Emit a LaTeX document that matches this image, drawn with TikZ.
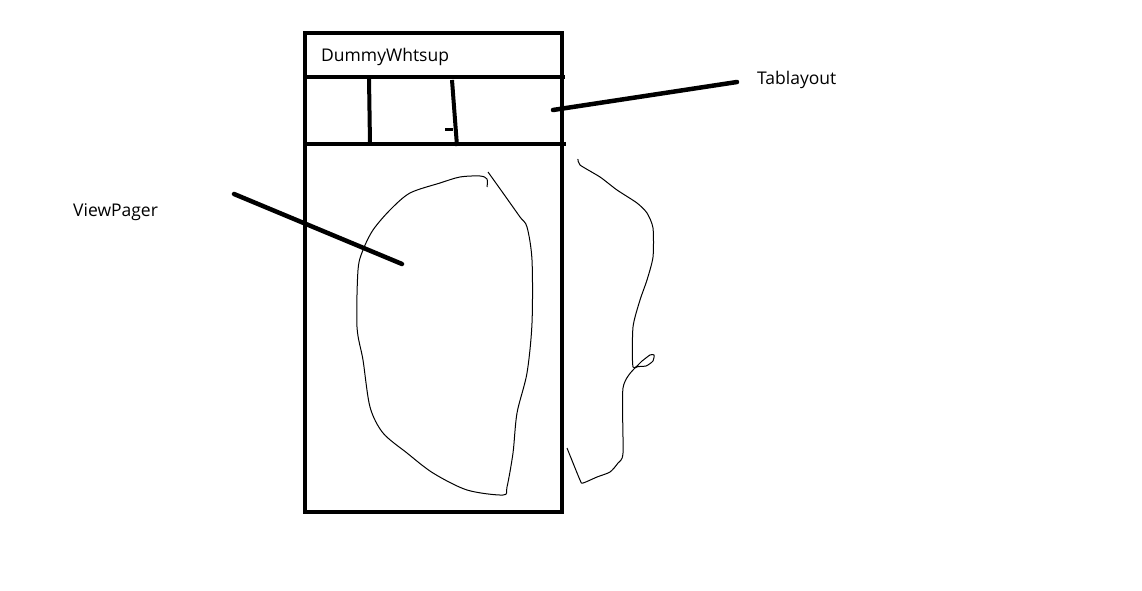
\documentclass[tikz,border=0pt]{standalone}
\usepackage{fontspec}
\setmainfont{Open Sans}
\begin{document}
\begin{tikzpicture}[x=1pt,y=-1pt,
  thick line/.style={line width=4pt},
  pointer/.style={line width=4.5pt,line cap=round},
  sketch/.style={line width=1pt,line join=round},
  lbl/.style={inner sep=0pt,font=\fontsize{17.5}{20}\selectfont,anchor=west}]
\useasboundingbox[fill=white] (0,0) rectangle (1142,591);
% phone frame
\draw[thick line] (305,33) rectangle (562,512);
\coordinate (hl1) at (305,77);
\coordinate (hr1) at (565,77);
\coordinate (hl2) at (305,144);
\coordinate (hr2) at (566,144);
\draw[thick line] (hl1) -- (hr1);
\draw[thick line] (hl2) -- (hr2);
\coordinate (t1a) at (369,78);
\coordinate (t1b) at (370,144);
\coordinate (t2a) at (452,80);
\coordinate (t2b) at (457,146);
\draw[thick line] (t1a) -- (t1b);
\draw[thick line] (t2a) -- (t2b);
\coordinate (tk1) at (445,129);
\coordinate (tk2) at (453,129);
\draw[line width=3pt] (tk1) -- (tk2);
% texts
\node[lbl] (title) at (321,57) {DummyWhtsup};
\node[lbl] (tab) at (757,80) {Tablayout};
\node[lbl] (vp) at (73,212) {ViewPager};
% pointers
\coordinate (tabs) at (737,82);
\coordinate (tabe) at (553,110);
\draw[pointer] (tabs) -- (tabe);
\coordinate (vps) at (234,194);
\coordinate (vpe) at (402,264);
\draw[pointer] (vps) -- (vpe);
% hand-drawn blobs
\draw[sketch] plot[smooth,tension=0.5] coordinates {
 (487,187) (487,179) (480,176) (460,177) (440,183) (410,193) (390,210) (373,230)
 (363,250) (358,270) (357,327) (363,360) (370,407) (383,433) (407,453)
 (433,473) (467,490) (503,495) (507,487) (513,453) (517,413) (527,373)
 (532,323) (532,260) (527,227) (520,217) (503,193) (488,172)};
\draw[sketch] plot[smooth,tension=0.4] coordinates {
 (578,159) (580,165) (600,177) (617,190) (637,203) (647,213) (653,228)
 (653,257) (647,280) (640,300) (633,327) (633,367) (642,361) (650,355)
 (654,355) (653,361) (646,366) (635,368) (623,388) (623,453) (618,463)
 (610,472) (597,477) (583,483) (580,480) (567,448)};
\end{tikzpicture}
\end{document}
